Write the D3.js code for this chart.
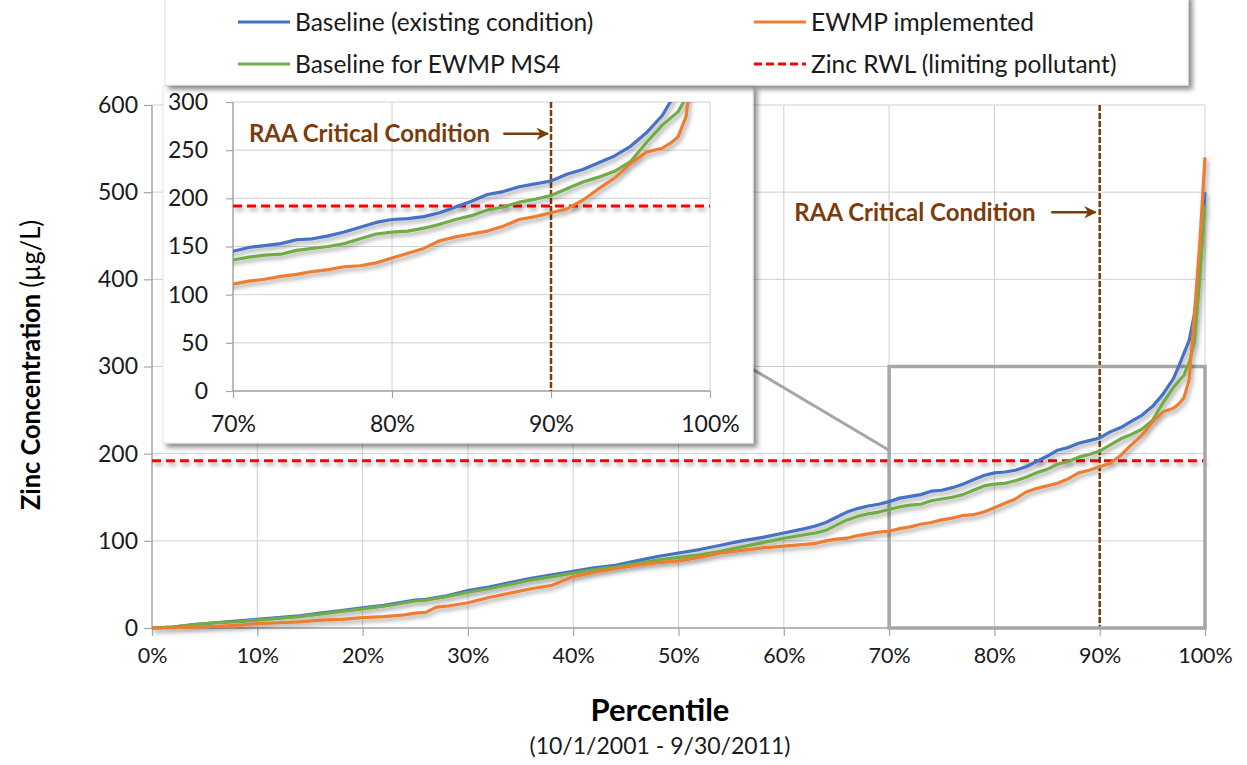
<!DOCTYPE html>
<html>
<head>
<meta charset="utf-8">
<script src="https://cdn.jsdelivr.net/npm/d3@7"></script>
<style>
  html, body { margin: 0; padding: 0; background: #fff; }
  svg { display: block; font-family: Lato, "Liberation Sans", sans-serif; }
</style>
</head>
<body>
<svg id="chart" width="1247" height="765"></svg>
<script>
// ---------- DATA ----------
const percentiles = [0,2,4,6,8,10,12,14,16,18,20,22,24,25,26,27,28,30,32,34,36,38,40,42,44,46,48,50,52,54,56,58,60,62,63,64,65,66,67,68,69,70,71,72,73,74,75,76,77,78,79,80,81,82,83,84,85,86,87,88,89,90,91,92,93,94,95,96,97,97.5,98,98.5,99,99.5,100];
const baselineExisting = [0,1,4,6,8,10,12,14,17,20,23,26,30,32,33,35,37,43,47,52,57,61,65,69,72,77,82,86,90,95,100,104,109,114,117,121,127,133,137,140,142,145,149,151,153,157,158,161,165,170,175,178,179,181,185,191,197,204,207,212,215,218,225,230,237,244,254,268,286,300,315,330,360,410,500];
const ewmpImplemented = [0,0,1,2,3,5,6,7,9,10,12,13,15,17,18,24,25,29,35,40,45,49,59,64,68,72,75,77,81,86,89,92,94,96,97,100,102,103,106,108,110,111,114,116,119,121,124,126,129,130,133,138,143,148,156,160,163,166,171,178,181,185,189,198,210,221,236,248,252,257,264,285,360,440,540];
const baselineMS4 = [0,1,4,6,7,9,11,13,16,19,22,25,29,31,32,34,36,41,45,50,55,59,63,67,70,74,78,81,84,88,93,98,103,107,109,112,118,124,128,131,133,136,139,141,142,146,148,150,153,158,163,165,166,169,173,178,182,188,191,196,199,203,210,217,222,228,238,258,276,283,290,305,328,400,485];

const seriesNames = ["Baseline (existing condition)", "EWMP implemented", "Baseline for EWMP MS4", "Zinc RWL (limiting pollutant)"];
const zincRWL = 192;
const criticalPercentile = 90;
const annotationText = "RAA Critical Condition";

const mainXTicks = [0,10,20,30,40,50,60,70,80,90,100];
const mainYTicks = [0,100,200,300,400,500,600];
const insetXTicks = [70,80,90,100];
const insetYTicks = [0,50,100,150,200,250,300];
const xAxisTitle = "Percentile";
const xAxisSubtitle = "(10/1/2001 - 9/30/2011)";
const yAxisTitleBold = "Zinc Concentration";
const yAxisTitleUnit = "(µg/L)";

// ---------- STYLE ----------
const C_BLUE = "#4472C4", C_ORANGE = "#ED7D31", C_GREEN = "#70AD47", C_RED = "#FF0000", C_BROWN = "#7B3C0C";
const C_GRID = "#d0d0d0", C_AXIS = "#a6a6a6", C_TEXT = "#1a1a1a";

const svg = d3.select("#chart");
const defs = svg.append("defs");
const sh = defs.append("filter").attr("id", "lineShadow").attr("filterUnits", "userSpaceOnUse")
  .attr("x", 0).attr("y", 0).attr("width", 1247).attr("height", 765);
sh.append("feDropShadow").attr("dx", 2).attr("dy", 3).attr("stdDeviation", 2).attr("flood-color", "#000").attr("flood-opacity", 0.35);
const bs = defs.append("filter").attr("id", "boxShadow").attr("filterUnits", "userSpaceOnUse")
  .attr("x", 0).attr("y", -20).attr("width", 1247).attr("height", 800);
bs.append("feDropShadow").attr("dx", 4).attr("dy", 4).attr("stdDeviation", 2.5).attr("flood-color", "#000").attr("flood-opacity", 0.45);
const mk = defs.append("marker").attr("id", "arrowHead").attr("viewBox", "0 0 10 10").attr("refX", 9).attr("refY", 5)
  .attr("markerWidth", 5).attr("markerHeight", 5).attr("orient", "auto").attr("markerUnits", "strokeWidth");
mk.append("path").attr("d", "M0,0 L10,5 L0,10 L3,5 Z").attr("fill", C_BROWN);

const series = [
  { name: seriesNames[0], values: baselineExisting, color: C_BLUE },
  { name: seriesNames[2], values: baselineMS4, color: C_GREEN },
  { name: seriesNames[1], values: ewmpImplemented, color: C_ORANGE }
];

// ---------- MAIN CHART ----------
const x = d3.scaleLinear().domain([0, 100]).range([152, 1205]);
const y = d3.scaleLinear().domain([0, 600]).range([628, 105]);

const main = svg.append("g");
main.append("g").selectAll("line").data(mainYTicks).join("line")
  .attr("x1", x(0)).attr("x2", x(100)).attr("y1", d => y(d)).attr("y2", d => y(d))
  .attr("stroke", C_GRID).attr("stroke-width", 1);
main.append("g").selectAll("line").data(mainXTicks.slice(1)).join("line")
  .attr("x1", d => x(d)).attr("x2", d => x(d)).attr("y1", y(0)).attr("y2", y(600))
  .attr("stroke", C_GRID).attr("stroke-width", 1);

const xAxis = main.append("g").attr("transform", `translate(0,${y(0)})`)
  .call(d3.axisBottom(x).tickValues(mainXTicks).tickFormat(d => d + "%").tickSize(8).tickPadding(12));
const yAxis = main.append("g").attr("transform", `translate(${x(0)},0)`)
  .call(d3.axisLeft(y).tickValues(mainYTicks).tickSize(8).tickPadding(6));
[xAxis, yAxis].forEach(a => {
  a.select(".domain").attr("stroke", C_AXIS).attr("stroke-width", 1.5);
  a.selectAll(".tick line").attr("stroke", C_AXIS).attr("stroke-width", 1.2);
  a.selectAll(".tick text").attr("fill", C_TEXT).style("font-family", "Lato");
});
xAxis.selectAll(".tick text").style("font-size", "21.5px");
yAxis.selectAll(".tick text").style("font-size", "23px");
xAxis.select(".domain").attr("d", `M${x(0)},0H${x(100)}`);
yAxis.select(".domain").attr("d", `M0,${y(0)}V${y(600)}`);

main.append("line").attr("x1", x(0)).attr("x2", x(100)).attr("y1", y(zincRWL)).attr("y2", y(zincRWL))
  .attr("stroke", C_RED).attr("stroke-width", 3).attr("stroke-dasharray", "9,5").attr("filter", "url(#lineShadow)");
main.append("line").attr("x1", x(criticalPercentile)).attr("x2", x(criticalPercentile)).attr("y1", y(600)).attr("y2", y(0))
  .attr("stroke", C_BROWN).attr("stroke-width", 2.5).attr("stroke-dasharray", "6,2");

main.append("rect").attr("x", x(70)).attr("y", y(300)).attr("width", x(100) - x(70)).attr("height", y(0) - y(300))
  .attr("fill", "none").attr("stroke", C_AXIS).attr("stroke-width", 3.5);
main.append("line").attr("x1", 700).attr("y1", 338).attr("x2", x(70)).attr("y2", y(204))
  .attr("stroke", C_AXIS).attr("stroke-width", 3);

const lineMain = d3.line().x((d, i) => x(percentiles[i])).y(d => y(d));
main.append("g").attr("filter", "url(#lineShadow)").selectAll("path").data(series).join("path")
  .attr("d", d => lineMain(d.values)).attr("fill", "none").attr("stroke", d => d.color)
  .attr("stroke-width", 3.2).attr("stroke-linejoin", "round");

main.append("text").attr("x", x(83.9)).attr("y", y(477)).attr("dy", "0.35em").attr("text-anchor", "end")
  .attr("fill", C_BROWN).style("font-weight", "bold").style("font-size", "24px").text(annotationText);
main.append("line").attr("x1", x(85.4)).attr("x2", x(89.6)).attr("y1", y(477)).attr("y2", y(477))
  .attr("stroke", C_BROWN).attr("stroke-width", 2.5).attr("marker-end", "url(#arrowHead)");

svg.append("text").attr("x", 660).attr("y", 721).attr("text-anchor", "middle").attr("fill", "#000")
  .style("font-weight", "bold").style("font-size", "31px").text(xAxisTitle);
svg.append("text").attr("x", 660).attr("y", 754).attr("text-anchor", "middle").attr("fill", C_TEXT)
  .style("font-size", "23px").text(xAxisSubtitle);
const yt = svg.append("text").attr("transform", "translate(40,365) rotate(-90)").attr("text-anchor", "middle")
  .attr("fill", "#000").style("font-size", "27px").attr("textLength", 290).attr("lengthAdjust", "spacingAndGlyphs");
yt.append("tspan").style("font-weight", "bold").text(yAxisTitleBold + " ");
yt.append("tspan").style("font-weight", "normal").text(yAxisTitleUnit);

// ---------- INSET ----------
const inset = svg.append("g");
inset.append("rect").attr("x", 163).attr("y", 86).attr("width", 590).attr("height", 357)
  .attr("fill", "#fff").attr("stroke", "#e6e6e6").attr("stroke-width", 1).attr("filter", "url(#boxShadow)");
const xi = d3.scaleLinear().domain([70, 100]).range([233, 710]);
const yi = d3.scaleLinear().domain([0, 300]).range([391, 102]);
defs.append("clipPath").attr("id", "insetClip").append("rect")
  .attr("x", xi(70)).attr("y", yi(300)).attr("width", xi(100) - xi(70)).attr("height", yi(0) - yi(300));

inset.append("g").selectAll("line").data(insetYTicks).join("line")
  .attr("x1", xi(70)).attr("x2", xi(100)).attr("y1", d => yi(d)).attr("y2", d => yi(d))
  .attr("stroke", C_GRID).attr("stroke-width", 1);
inset.append("g").selectAll("line").data(insetXTicks.slice(1)).join("line")
  .attr("x1", d => xi(d)).attr("x2", d => xi(d)).attr("y1", yi(0)).attr("y2", yi(300))
  .attr("stroke", C_GRID).attr("stroke-width", 1);
const xiAxis = inset.append("g").attr("transform", `translate(0,${yi(0)})`)
  .call(d3.axisBottom(xi).tickValues(insetXTicks).tickFormat(d => d + "%").tickSize(7).tickPadding(18));
const yiAxis = inset.append("g").attr("transform", `translate(${xi(70)},0)`)
  .call(d3.axisLeft(yi).tickValues(insetYTicks).tickSize(7).tickPadding(18));
[xiAxis, yiAxis].forEach(a => {
  a.select(".domain").attr("stroke", C_AXIS).attr("stroke-width", 1.5);
  a.selectAll(".tick line").attr("stroke", C_AXIS).attr("stroke-width", 1.2);
  a.selectAll(".tick text").attr("fill", C_TEXT).style("font-size", "23px").style("font-family", "Lato");
});
xiAxis.select(".domain").attr("d", `M${xi(70)},0H${xi(100)}`);
yiAxis.select(".domain").attr("d", `M0,${yi(0)}V${yi(300)}`);

const ic = inset.append("g").attr("clip-path", "url(#insetClip)");
ic.append("line").attr("x1", xi(70)).attr("x2", xi(100)).attr("y1", yi(zincRWL)).attr("y2", yi(zincRWL))
  .attr("stroke", C_RED).attr("stroke-width", 3).attr("stroke-dasharray", "9,5").attr("filter", "url(#lineShadow)");
ic.append("line").attr("x1", xi(criticalPercentile)).attr("x2", xi(criticalPercentile)).attr("y1", yi(300)).attr("y2", yi(0))
  .attr("stroke", C_BROWN).attr("stroke-width", 2.5).attr("stroke-dasharray", "6,2");
const lineInset = d3.line().x((d, i) => xi(percentiles[i])).y(d => yi(d));
ic.append("g").attr("filter", "url(#lineShadow)").selectAll("path").data(series).join("path")
  .attr("d", d => lineInset(d.values)).attr("fill", "none").attr("stroke", d => d.color)
  .attr("stroke-width", 3.2).attr("stroke-linejoin", "round");
inset.append("text").attr("x", xi(71)).attr("y", yi(267)).attr("dy", "0.35em").attr("text-anchor", "start")
  .attr("fill", C_BROWN).style("font-weight", "bold").style("font-size", "24px").text(annotationText);
inset.append("line").attr("x1", xi(87.0)).attr("x2", xi(89.8)).attr("y1", yi(267)).attr("y2", yi(267))
  .attr("stroke", C_BROWN).attr("stroke-width", 2.5).attr("marker-end", "url(#arrowHead)");

// ---------- LEGEND ----------
const legend = svg.append("g");
legend.append("rect").attr("x", 165).attr("y", -6).attr("width", 1023).attr("height", 91)
  .attr("fill", "#fff").attr("stroke", "#e6e6e6").attr("stroke-width", 1).attr("filter", "url(#boxShadow)");
const legendItems = [
  { name: seriesNames[0], color: C_BLUE, dash: null, lx: 238, ly: 22 },
  { name: seriesNames[2], color: C_GREEN, dash: null, lx: 238, ly: 64 },
  { name: seriesNames[1], color: C_ORANGE, dash: null, lx: 754, ly: 22 },
  { name: seriesNames[3], color: C_RED, dash: "8,4", lx: 754, ly: 64 }
];
const li = legend.selectAll("g.item").data(legendItems).join("g").attr("class", "item");
li.append("line").attr("x1", d => d.lx).attr("x2", d => d.lx + 52).attr("y1", d => d.ly).attr("y2", d => d.ly)
  .attr("stroke", d => d.color).attr("stroke-width", 3).attr("stroke-dasharray", d => d.dash);
li.append("text").attr("x", d => d.lx + 57).attr("y", d => d.ly).attr("dy", "0.35em")
  .attr("fill", C_TEXT).style("font-size", "24.5px").text(d => d.name);
</script>
</body>
</html>
